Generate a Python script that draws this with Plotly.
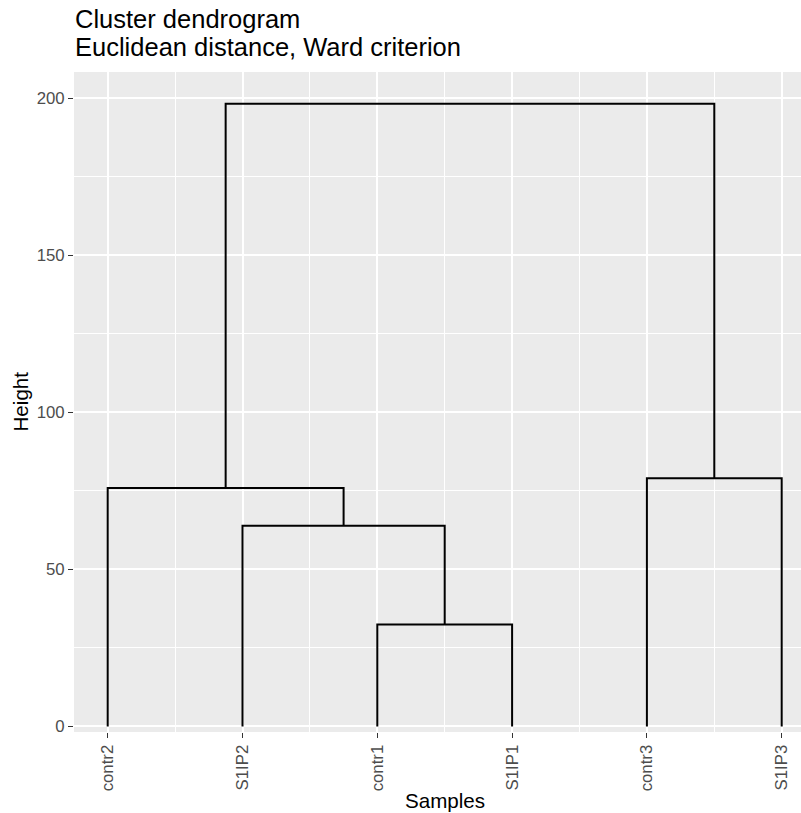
import plotly.graph_objects as go

# ---- data ----
samples = ["contr2", "S1IP2", "contr1", "S1IP1", "contr3", "S1IP3"]
# hclust-style merges: negative = leaf (1-based index into samples order), positive = earlier merge
merge_left = [-3, -2, -1, -5, 3]
merge_right = [-4, 1, 2, -6, 4]
merge_height = [32.4, 63.9, 75.9, 79.0, 198.2]
y_ticks = [0, 50, 100, 150, 200]

# ---- build dendrogram segments from merges ----
pos = {}
hgt = {}
def node_xy(n):
    if n < 0:
        return float(-n), 0.0
    return pos[n], hgt[n]

xs, ys = [], []
for i, (a, b, h) in enumerate(zip(merge_left, merge_right, merge_height), start=1):
    xa, ha = node_xy(a)
    xb, hb = node_xy(b)
    pos[i] = (xa + xb) / 2
    hgt[i] = h
    xs += [xa, xa, xb, xb, None]
    ys += [ha, h, h, hb, None]

FONT = "Liberation Sans, Arial, Helvetica, sans-serif"
TICK_SIZE = 16.8
TITLE_SIZE = 25.5
AXT_SIZE = 20.6

fig = go.Figure()
fig.add_trace(go.Scatter(x=xs, y=ys, mode="lines",
                         line=dict(color="black", width=2),
                         hoverinfo="skip", showlegend=False))

L, R, T, B = 74, 0, 72, 81
W, H = 801, 813
x_unit = 134.8
x_lo = 0.75
x_hi = x_lo + (W - L - R) / x_unit

fig.update_layout(
    width=W, height=H,
    margin=dict(l=L, r=R, t=T, b=B, pad=0),
    paper_bgcolor="white",
    plot_bgcolor="#EBEBEB",
    font=dict(family=FONT),
    showlegend=False,
    xaxis=dict(
        range=[x_lo, x_hi],
        tickmode="array",
        tickvals=list(range(1, len(samples) + 1)),
        ticktext=samples,
        tickangle=-90,
        tickfont=dict(size=TICK_SIZE, color="#4D4D4D", family=FONT),
        ticks="outside", ticklen=5, tickwidth=1, tickcolor="#333333",
        showgrid=True, gridcolor="white", gridwidth=2,
        zeroline=False, showline=False,
        minor=dict(tickmode="array",
                   tickvals=[i + 0.5 for i in range(1, len(samples))],
                   showgrid=True, gridcolor="white", gridwidth=1, ticks=""),
        fixedrange=True,
    ),
    yaxis=dict(
        range=[-1.78, 208.3],
        tickmode="array",
        tickvals=y_ticks,
        ticktext=[str(v) for v in y_ticks],
        tickfont=dict(size=TICK_SIZE, color="#4D4D4D", family=FONT),
        ticks="outside", ticklen=5, tickwidth=1, tickcolor="#333333",
        showgrid=True, gridcolor="white", gridwidth=2,
        zeroline=False, showline=False,
        minor=dict(tickmode="array",
                   tickvals=[25, 75, 125, 175],
                   showgrid=True, gridcolor="white", gridwidth=1, ticks=""),
        fixedrange=True,
    ),
)

plot_h = H - T - B
plot_w = W - L - R
def py(p):  # pixel y -> paper
    return (H - B - p) / plot_h
def px(p):  # pixel x -> paper
    return (p - L) / plot_w

anns = [
    dict(text="Cluster dendrogram", x=px(74), y=py(19.5), xanchor="left", yanchor="middle",
         font=dict(size=TITLE_SIZE, color="black", family=FONT)),
    dict(text="Euclidean distance, Ward criterion", x=px(74), y=py(46.5), xanchor="left", yanchor="middle",
         font=dict(size=TITLE_SIZE, color="black", family=FONT)),
    dict(text="Samples", x=px(445), y=py(800.5), xanchor="center", yanchor="middle",
         font=dict(size=AXT_SIZE, color="black", family=FONT)),
    dict(text="Height", x=px(19.5), y=py(402), xanchor="center", yanchor="middle", textangle=-90,
         font=dict(size=AXT_SIZE, color="black", family=FONT)),
]
for a in anns:
    a.update(xref="paper", yref="paper", showarrow=False, borderpad=0)
    fig.add_annotation(**a)

fig.write_html("out.html")
